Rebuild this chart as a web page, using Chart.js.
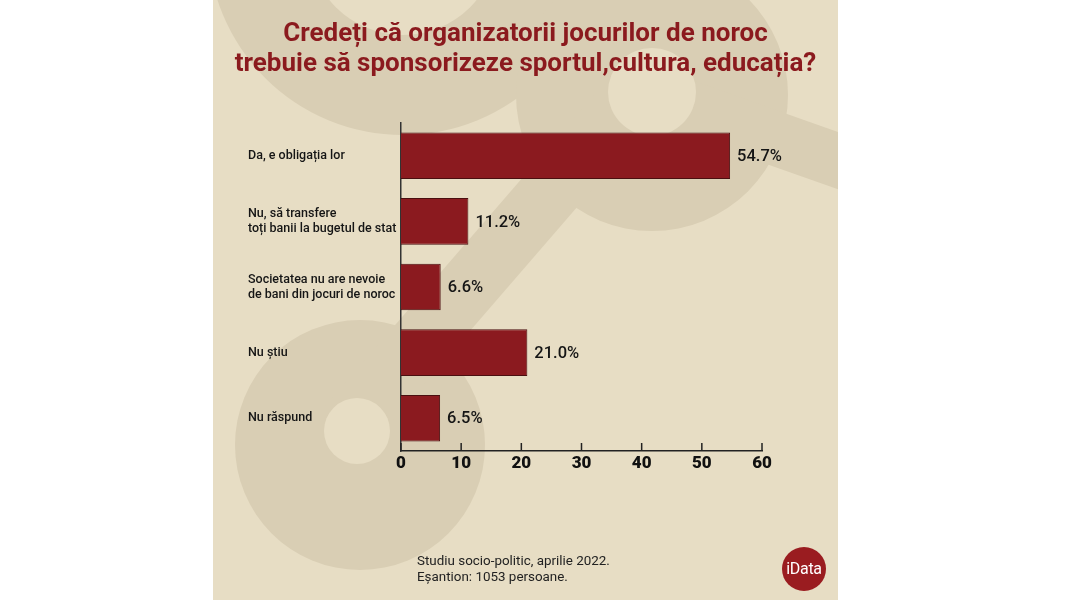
<!DOCTYPE html>
<html>
<head>
<meta charset="utf-8">
<script src="https://cdn.jsdelivr.net/npm/chart.js@4.4.1/dist/chart.umd.min.js"></script>
<style>
  body { margin: 0; width: 1070px; height: 600px; background: #fff; overflow: hidden; font-family: Roboto, sans-serif; }
  #panel { position: absolute; left: 213px; top: 0; width: 625px; height: 600px; background: #e7ddc4; overflow: hidden; }
  #chart { position: absolute; left: 0; top: 0; }
  #title { position: absolute; left: 0; top: 17px; width: 625px; text-align: center; color: #8b1a1e;
           font: bold 26px/30px Roboto, sans-serif; white-space: nowrap; }
  #note { position: absolute; left: 204px; top: 553px; color: #222; font: 13.4px/16px Roboto, sans-serif; }
  #logo { position: absolute; left: 569px; top: 547px; width: 44px; height: 44px; border-radius: 50%;
          background: #9a1c20; color: #fff; font: 16px/44px Roboto, sans-serif; text-align: center; letter-spacing: -0.3px; }
</style>
</head>
<body>
<div id="panel">
  <canvas id="chart" width="625" height="600"></canvas>
  <div id="title">Credeți că organizatorii jocurilor de noroc<br>trebuie să sponsorizeze sportul,cultura, educația?</div>
  <div id="note">Studiu socio-politic, aprilie 2022.<br>Eșantion: 1053 persoane.</div>
  <div id="logo">iData</div>
</div>
<script>
const categories = [
  'Da, e obligația lor',
  ['Nu, să transfere', 'toți banii la bugetul de stat'],
  ['Societatea nu are nevoie', 'de bani din jocuri de noroc'],
  'Nu știu',
  'Nu răspund'
];
const values = [54.7, 11.2, 6.6, 21.0, 6.5];
const xTicks = [0, 10, 20, 30, 40, 50, 60];

const panelBg = '#e7ddc4';
const markColor = '#d9ceb4';

// faint percent sign behind the chart
const watermark = {
  id: 'watermark',
  beforeDraw(chart) {
    const ctx = chart.ctx;
    function disc(x, y, r, col) {
      ctx.fillStyle = col;
      ctx.beginPath();
      ctx.arc(x, y, r, 0, Math.PI * 2);
      ctx.fill();
    }
    ctx.save();
    disc(190, -60, 195, markColor);
    disc(439, 95, 136, markColor);
    disc(147, 445, 125, markColor);
    ctx.fillStyle = markColor;
    ctx.beginPath();
    ctx.moveTo(100, 420);
    ctx.lineTo(180, 420);
    ctx.lineTo(461, 95);
    ctx.lineTo(381, 95);
    ctx.closePath();
    ctx.fill();
    ctx.strokeStyle = markColor;
    ctx.lineWidth = 54;
    ctx.beginPath();
    ctx.moveTo(439, 95);
    ctx.lineTo(680, 180);
    ctx.stroke();
    // holes
    disc(190, -60, 95, panelBg);
    disc(439, 92, 44, panelBg);
    disc(144, 431, 33, panelBg);
    ctx.restore();
  }
};

// tick marks pointing up from the x axis + value labels
const extras = {
  id: 'extras',
  afterDraw(chart) {
    const ctx = chart.ctx;
    const x = chart.scales.x;
    const bottom = chart.chartArea.bottom;
    ctx.save();
    ctx.strokeStyle = '#222';
    ctx.lineWidth = 1.5;
    x.ticks.forEach(t => {
      const px = x.getPixelForValue(t.value);
      ctx.beginPath();
      ctx.moveTo(px, bottom - 8);
      ctx.lineTo(px, bottom);
      ctx.stroke();
    });
    ctx.fillStyle = '#151515';
    ctx.font = '500 16.5px Roboto';
    ctx.textBaseline = 'middle';
    chart.getDatasetMeta(0).data.forEach((bar, i) => {
      ctx.fillText(values[i].toFixed(1) + '%', bar.x + 7, bar.y + 1);
    });
    ctx.restore();
  }
};

new Chart(document.getElementById('chart'), {
  type: 'bar',
  data: {
    labels: categories,
    datasets: [{
      data: values,
      backgroundColor: '#8b1a1f',
      borderColor: '#4a0f10',
      borderWidth: 1,
      barPercentage: 0.71,
      categoryPercentage: 1
    }]
  },
  options: {
    indexAxis: 'y',
    responsive: false,
    animation: false,
    layout: { padding: { left: 35, top: 123, right: 76, bottom: 119 } },
    plugins: { legend: { display: false }, tooltip: { enabled: false } },
    scales: {
      x: {
        min: xTicks[0],
        max: xTicks[xTicks.length - 1],
        afterBuildTicks(s) { s.ticks = xTicks.map(v => ({ value: v })); },
        ticks: { color: '#111', padding: 3, font: { family: 'Roboto', size: 17, weight: '900' } },
        grid: { display: false, drawTicks: false },
        border: { color: '#222', width: 1.5 },
        afterFit(s) { s.height = 30; }
      },
      y: {
        ticks: { crossAlign: 'far', color: '#151515', font: { family: 'Roboto', size: 12.5, weight: '500' } },
        grid: { display: false, drawTicks: false },
        border: { color: '#333', width: 1.5 },
        afterFit(s) { s.width = 153; }
      }
    }
  },
  plugins: [watermark, extras]
});
</script>
</body>
</html>
